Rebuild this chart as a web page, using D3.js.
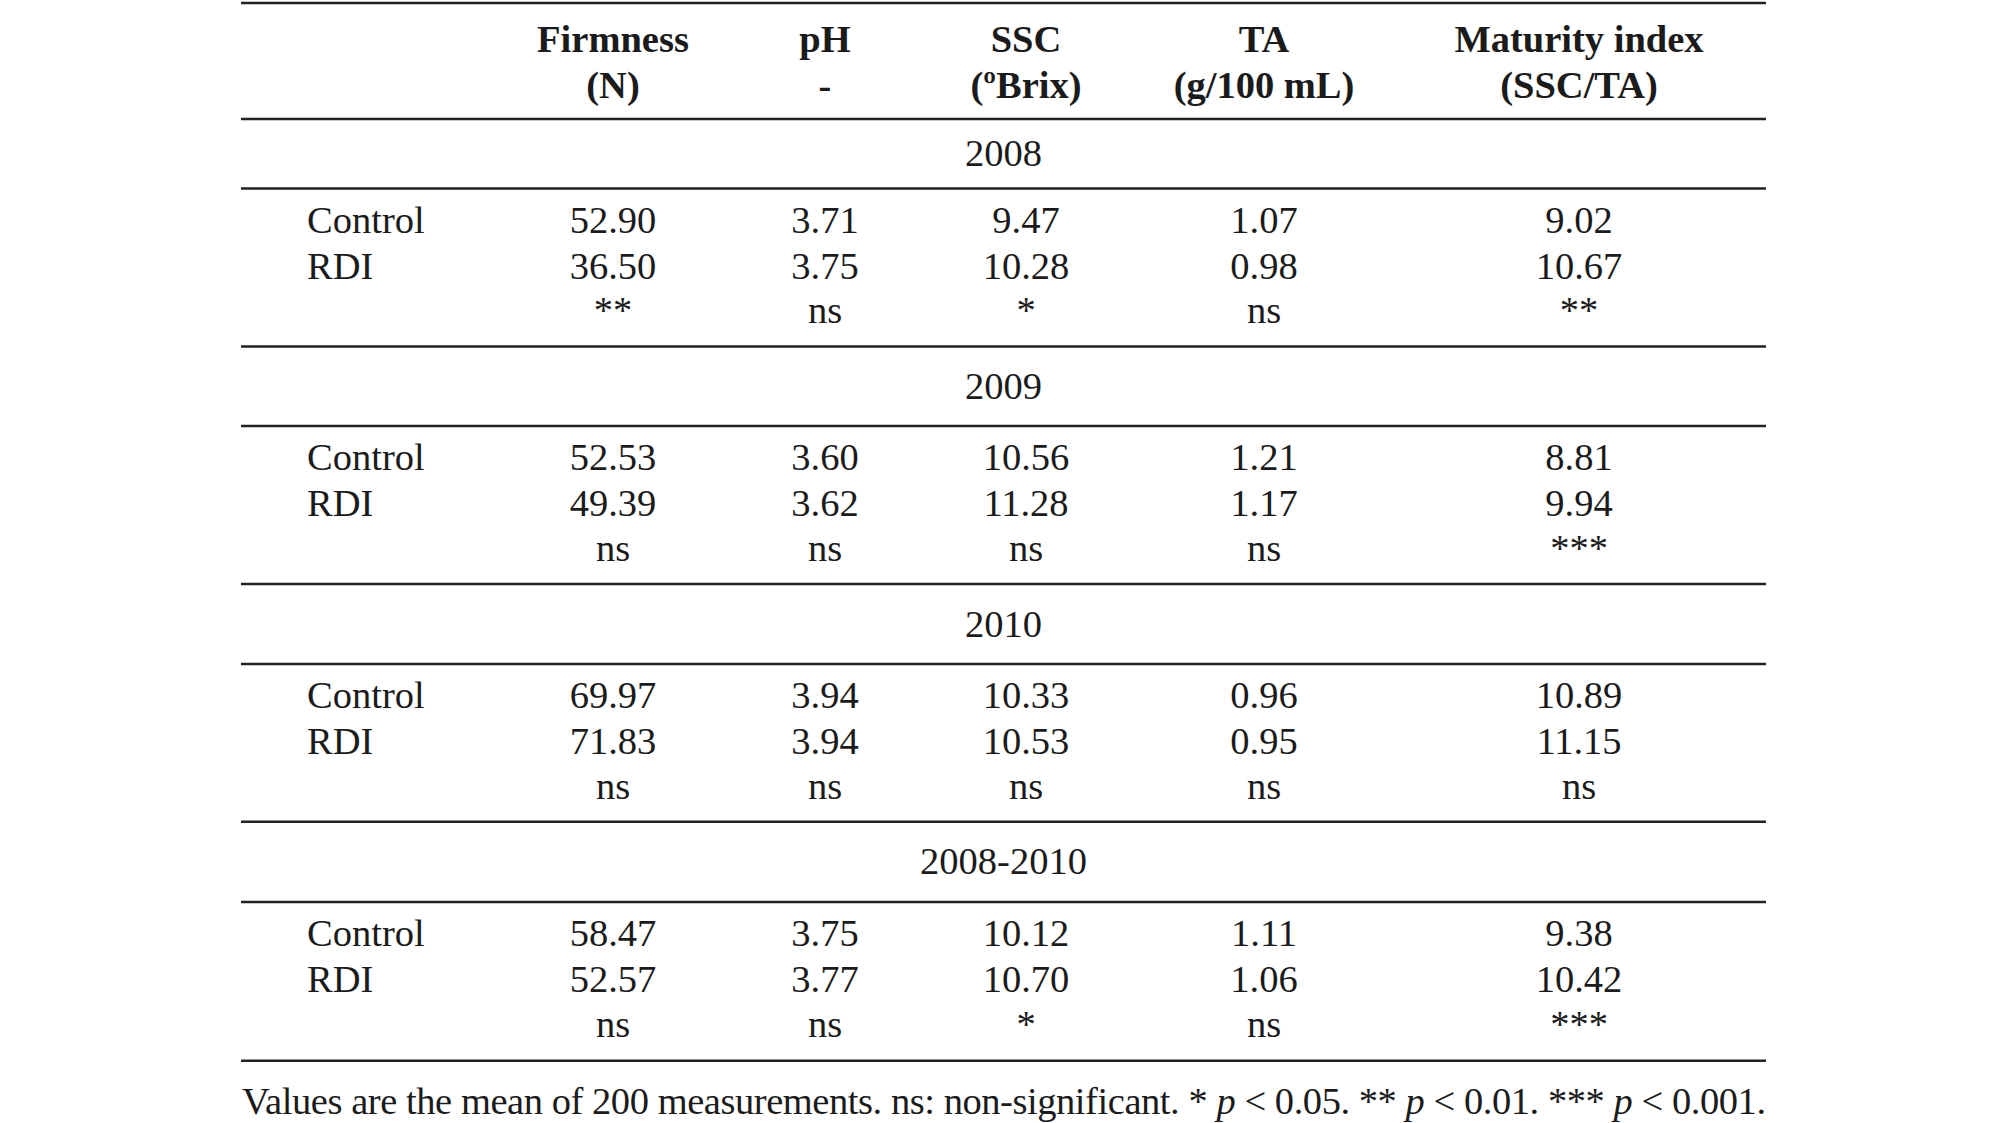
<!DOCTYPE html>
<html>
<head>
    <meta charset="utf-8">
    <script src="https://cdn.jsdelivr.net/npm/d3@7"></script>
    <title>Fruit quality table</title>
    <style>
        body { margin: 0; background: #fff; }
        text { font-family: "Liberation Serif", "Times New Roman", serif; fill: #1b1b1b; }
    </style>
</head>
<body>
    <div id="tabla"></div>
    <script>
        // column headers
        var columns = ["Firmness", "pH", "SSC", "TA", "Maturity index"];
        var units = ["(N)", "-", "(\u00baBrix)", "(g/100 mL)", "(SSC/TA)"];
        var periods = ["2008", "2009", "2010", "2008-2010"];
        var treatments = ["Control", "RDI"];

        // means per period (rows) and column
        var controlVals = [
            [52.90, 3.71, 9.47, 1.07, 9.02],
            [52.53, 3.60, 10.56, 1.21, 8.81],
            [69.97, 3.94, 10.33, 0.96, 10.89],
            [58.47, 3.75, 10.12, 1.11, 9.38]
        ];
        var rdiVals = [
            [36.50, 3.75, 10.28, 0.98, 10.67],
            [49.39, 3.62, 11.28, 1.17, 9.94],
            [71.83, 3.94, 10.53, 0.95, 11.15],
            [52.57, 3.77, 10.70, 1.06, 10.42]
        ];
        var signif = [
            ["**", "ns", "*", "ns", "**"],
            ["ns", "ns", "ns", "ns", "***"],
            ["ns", "ns", "ns", "ns", "ns"],
            ["ns", "ns", "*", "ns", "***"]
        ];
        var footnote = "Values are the mean of 200 measurements. ns: non-significant.";

        var W = 2007, H = 1123;
        var fs = 38.5;
        var left = 241, right = 1766, labelX = 307;
        // horizontal rules (top, under header, then year / data blocks)
        var rules = [3, 119, 188.5, 346.5, 426, 584, 664, 821.7, 902, 1060.7];
        var rowOff = [44.3, 90, 134.5];

        var x = d3.scaleOrdinal().domain(columns).range([613, 825, 1026, 1264, 1579]);
        var fmt = d3.format(".2f");

        var svg = d3.select("#tabla").append("svg").attr("width", W).attr("height", H);

        svg.selectAll("line.rule").data(rules).enter().append("line")
            .attr("class", "rule")
            .attr("x1", left).attr("x2", right)
            .attr("y1", function (d) { return d; })
            .attr("y2", function (d) { return d; })
            .attr("stroke", "#222").attr("stroke-width", 2.6);

        // encabezado
        var head = svg.selectAll("g.head").data(columns).enter().append("g").attr("class", "head");
        head.append("text")
            .attr("x", function (d) { return x(d); }).attr("y", 52.3)
            .attr("text-anchor", "middle").attr("font-weight", "bold").attr("font-size", fs)
            .text(function (d) { return d; });
        head.append("text")
            .attr("x", function (d) { return x(d); }).attr("y", 97.7)
            .attr("text-anchor", "middle").attr("font-weight", "bold").attr("font-size", fs)
            .text(function (d, i) { return units[i]; });

        periods.forEach(function (p, k) {
            var yTop = rules[1 + 2 * k], yMid = rules[2 + 2 * k];

            svg.append("text")
                .attr("x", (left + right) / 2).attr("y", (yTop + yMid) / 2 + 12.5)
                .attr("text-anchor", "middle").attr("font-size", fs)
                .text(p);

            treatments.forEach(function (t, r) {
                svg.append("text")
                    .attr("x", labelX).attr("y", yMid + rowOff[r])
                    .attr("font-size", fs).text(t);
            });

            var rows = [controlVals[k].map(fmt), rdiVals[k].map(fmt), signif[k]];
            rows.forEach(function (vals, r) {
                svg.selectAll(null).data(vals).enter().append("text")
                    .attr("x", function (d, i) { return x(columns[i]); })
                    .attr("y", yMid + rowOff[r])
                    .attr("text-anchor", "middle").attr("font-size", fs)
                    .text(function (d) { return d; });
            });
        });

        // nota al pie
        var fn = svg.append("text").attr("x", 242).attr("y", 1114).attr("font-size", fs)
            .attr("textLength", right - 242).attr("lengthAdjust", "spacing");
        fn.append("tspan").text(footnote + " * ");
        fn.append("tspan").attr("font-style", "italic").text("p");
        fn.append("tspan").text(" < 0.05. ** ");
        fn.append("tspan").attr("font-style", "italic").text("p");
        fn.append("tspan").text(" < 0.01. *** ");
        fn.append("tspan").attr("font-style", "italic").text("p");
        fn.append("tspan").text(" < 0.001.");
    </script>
</body>
</html>
